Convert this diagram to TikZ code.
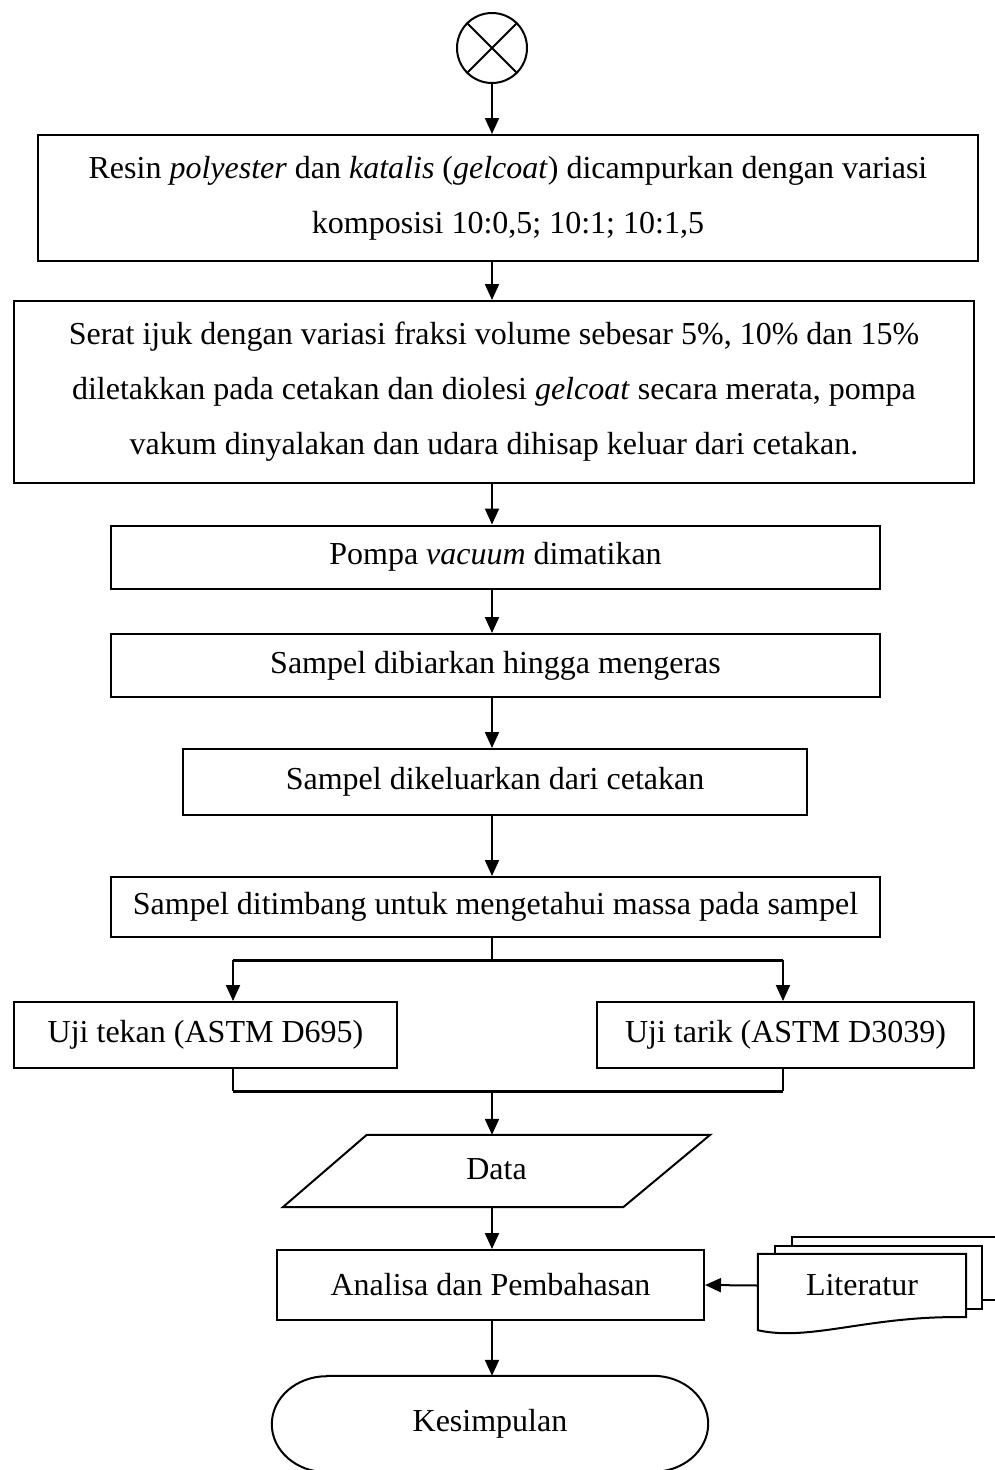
\documentclass[tikz,border=0pt]{standalone}
\usepackage{fontspec}
\setmainfont{Liberation Serif}
\usetikzlibrary{arrows.meta,calc}
\begin{document}
\begin{tikzpicture}[x=1pt,y=-1pt,
  every node/.style={font=\fontsize{32}{55}\selectfont, inner sep=0pt},
  ln/.style={line width=2pt},
  bus/.style={line width=3pt},
  box/.style={draw, ln, rectangle, align=center},
  arr/.style={ln, -{Triangle[length=16pt,width=14pt]}},
]
\useasboundingbox (0,0) rectangle (995,1470);
\clip (0,0) rectangle (995,1470);

\node[draw, ln, circle, minimum size=70pt] (start) at (492,48) {};
\draw[ln] (start.north west) -- (start.south east) (start.north east) -- (start.south west);

\node[box, minimum width=940pt, minimum height=126pt] (b1) at (508,198)
  {Resin \textit{polyester} dan \textit{katalis} (\textit{gelcoat}) dicampurkan dengan variasi\\ komposisi 10:0,5; 10:1; 10:1,5};
\node[box, minimum width=960pt, minimum height=182pt] (b2) at (494,392)
  {Serat ijuk dengan variasi fraksi volume sebesar 5\%, 10\% dan 15\%\\ diletakkan pada cetakan dan diolesi \textit{gelcoat} secara merata, pompa\\ vakum dinyalakan dan udara dihisap keluar dari cetakan.};
\node[box, minimum width=769pt, minimum height=63pt] (b3) at (495.5,557) {Pompa \textit{vacuum} dimatikan};
\node[box, minimum width=769pt, minimum height=63pt] (b4) at (495.5,665.5) {Sampel dibiarkan hingga mengeras};
\node[box, minimum width=624pt, minimum height=66pt] (b5) at (495,782) {Sampel dikeluarkan dari cetakan};
\node[box, minimum width=769pt, minimum height=60pt] (b6) at (495.5,907) {Sampel ditimbang untuk mengetahui massa pada sampel};
\node[box, minimum width=383pt, minimum height=66pt] (tekan) at (205.5,1035) {Uji tekan (ASTM D695)};
\node[box, minimum width=377pt, minimum height=66pt] (tarik) at (785.5,1035) {Uji tarik (ASTM D3039)};
\node[minimum width=427pt, minimum height=72pt] (data) at (496.5,1171) {\raisebox{4pt}{Data}};
\draw[ln] ($(data.north west)+(84,0)$) -- (data.north east) -- ($(data.south east)+(-87,0)$)
  -- (data.south west) -- cycle;
\node[box, minimum width=427pt, minimum height=70pt] (ana) at (490.5,1285) {Analisa dan Pembahasan};
\node[minimum width=208pt, minimum height=63pt] (lit) at (862,1285.5) {Literatur};
\node[minimum width=436pt, minimum height=96pt] (kes) at (490,1424) {\raisebox{2pt}{Kesimpulan}};

% literatur stacked documents
\draw[ln] (792,1246) -- (792,1237) -- (1000,1237);
\draw[ln] (982,1300) -- (1000,1300);
\draw[ln] (775,1254) -- (775,1246) -- (982,1246) -- (982,1309) -- (966,1309);
\draw[ln] (lit.north west) -- (lit.north east) -- (lit.south east)
  .. controls (870,1315) and (810,1342) .. ($(lit.south west)+(0,13)$) -- cycle;

% terminal
\draw[ln] ($(kes.north west)+(55,0)$) -- ($(kes.north east)+(-55,0)$)
  arc[start angle=-90, end angle=90, x radius=55, y radius=48]
  -- ($(kes.south west)+(55,0)$)
  arc[start angle=90, end angle=270, x radius=55, y radius=48] -- cycle;

% connectors
\coordinate (sp) at (492,960);
\coordinate (spl) at (233,960);
\coordinate (spr) at (783,960);
\coordinate (mg) at (492,1091);
\coordinate (mgl) at (233,1091);
\coordinate (mgr) at (783,1091);

\draw[arr] (start.south) -- (start.south |- b1.north);
\draw[arr] (b1.south -| sp) -- (b2.north -| sp);
\draw[arr] (b2.south -| sp) -- (b3.north -| sp);
\draw[arr] (b3.south -| sp) -- (b4.north -| sp);
\draw[arr] (b4.south -| sp) -- (b5.north -| sp);
\draw[arr] (b5.south -| sp) -- (b6.north -| sp);
\draw[ln] (b6.south -| sp) -- (sp);
\draw[bus] (spl) -- (spr);
\draw[arr] (spl) -- (spl |- tekan.north);
\draw[arr] (spr) -- (spr |- tarik.north);
\draw[ln] (spl |- tekan.south) -- (mgl);
\draw[ln] (spr |- tarik.south) -- (mgr);
\draw[bus] (mgl) -- (mgr);
\draw[arr] (mg) -- (mg |- data.north);
\draw[arr] (data.south -| sp) -- (ana.north -| sp);
\draw[arr] (lit.west) -- (ana.east);
\draw[arr] (ana.south -| sp) -- (kes.north -| sp);
\end{tikzpicture}
\end{document}
